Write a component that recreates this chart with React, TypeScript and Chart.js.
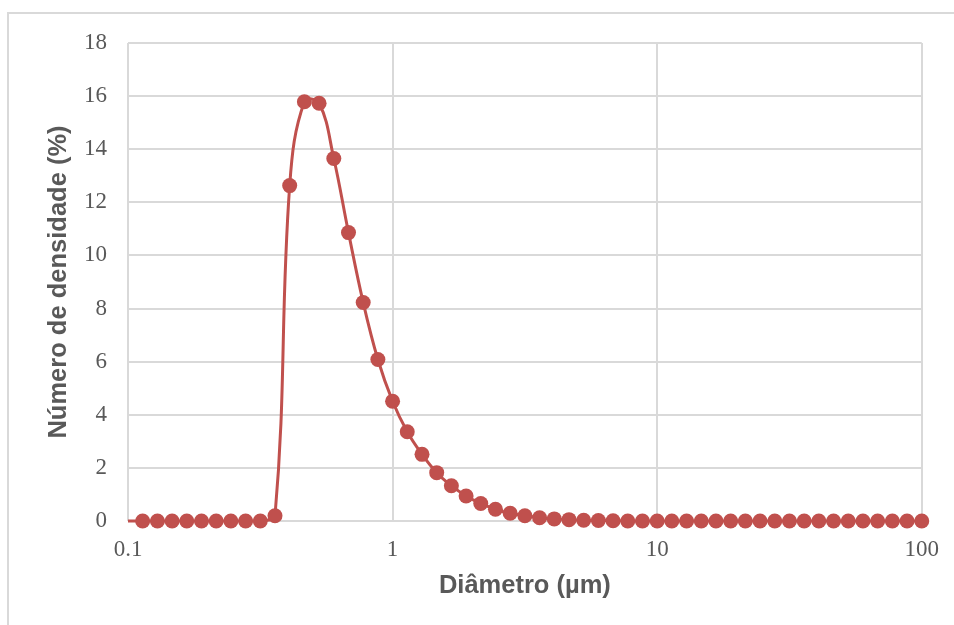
import React, { useEffect, useRef } from "react";
import { Chart, registerables } from "chart.js";

Chart.register(...registerables);

// Diameter classes (µm), log-spaced, 18 per decade
const diameters = [
  0.088, 0.1136, 0.1292, 0.1468, 0.1668, 0.1896, 0.2154, 0.2448, 0.2783, 0.3162,
  0.3594, 0.4084, 0.4642, 0.5275, 0.5995, 0.6813, 0.7743, 0.8799, 1.0, 1.136,
  1.292, 1.468, 1.668, 1.896, 2.154, 2.448, 2.783, 3.162, 3.594, 4.084,
  4.642, 5.275, 5.995, 6.813, 7.743, 8.799, 10.0, 11.36, 12.92, 14.68,
  16.68, 18.96, 21.54, 24.48, 27.83, 31.62, 35.94, 40.84, 46.42, 52.75,
  59.95, 68.13, 77.43, 87.99, 100.0,
];

// Number density (%)
const densities = [
  0, 0, 0, 0, 0, 0, 0, 0, 0, 0,
  0.2, 12.63, 15.79, 15.73, 13.65, 10.86, 8.23, 6.08, 4.51, 3.36,
  2.51, 1.82, 1.33, 0.94, 0.66, 0.44, 0.29, 0.2, 0.12, 0.08,
  0.05, 0.03, 0.02, 0.01, 0, 0, 0, 0, 0, 0,
  0, 0, 0, 0, 0, 0, 0, 0, 0, 0,
  0, 0, 0, 0, 0,
];

const xTickValues = [0.1, 1, 10, 100];
const xTickLabels = ["0.1", "1", "10", "100"];
const yMin = 0;
const yMax = 18;
const yStep = 2;

const xTitle = "Diâmetro (µm)";
const yTitle = "Número de densidade (%)";

const RED = "#C0504D";
const GRID = "#D9D9D9";
const TEXT = "#595959";

export default function App() {
  const ref = useRef<HTMLCanvasElement | null>(null);

  useEffect(() => {
    if (!ref.current) return;
    const points = diameters.map((d, i) => ({ x: d, y: densities[i] }));
    const chart = new Chart(ref.current, {
      type: "line",
      data: {
        datasets: [
          {
            data: points,
            borderColor: RED,
            backgroundColor: RED,
            borderWidth: 3,
            pointRadius: 7.5,
            pointBorderWidth: 0,
            pointBackgroundColor: RED,
            tension: 0.4,
            clip: { left: 0, top: 10, right: 10, bottom: 10 } as any,
          },
        ],
      },
      options: {
        animation: false,
        responsive: false,
        layout: { padding: { left: 0, top: 43, right: 32, bottom: 0 } },
        plugins: { legend: { display: false }, tooltip: { enabled: false } },
        scales: {
          x: {
            type: "logarithmic",
            min: 0.1,
            max: 100,
            afterBuildTicks: (scale: any) => {
              scale.ticks = xTickValues.map((v) => ({ value: v }));
            },
            afterFit: (scale: any) => {
              scale.height = 104;
            },
            ticks: {
              callback: (v: any) => {
                const i = xTickValues.indexOf(Number(v));
                return i >= 0 ? xTickLabels[i] : "";
              },
              color: TEXT,
              font: { family: "'Liberation Serif', serif", size: 23 },
              padding: 15,
              autoSkip: false,
              maxRotation: 0,
            },
            grid: { color: GRID, lineWidth: 2, drawTicks: false },
            border: { display: false },
            title: {
              display: true,
              text: xTitle,
              color: TEXT,
              font: { family: "'Liberation Sans', Arial, sans-serif", size: 25.5, weight: "bold", lineHeight: 1.2 },
              padding: { top: 0, bottom: 23.7 },
            },
          },
          y: {
            min: yMin,
            max: yMax,
            afterFit: (scale: any) => {
              scale.width = 128;
            },
            ticks: {
              stepSize: yStep,
              color: TEXT,
              font: { family: "'Liberation Serif', serif", size: 23 },
              padding: 21,
            },
            grid: { color: GRID, lineWidth: 2, drawTicks: false },
            border: { display: false },
            title: {
              display: true,
              text: yTitle,
              color: TEXT,
              font: { family: "'Liberation Sans', Arial, sans-serif", size: 25.5, weight: "bold", lineHeight: 1.2 },
              padding: { top: 44, bottom: 0 },
            },
          },
        },
      },
    });
    return () => chart.destroy();
  }, []);

  return (
    <div
      style={{
        position: "fixed",
        left: 0,
        top: 0,
        width: 954,
        height: 625,
        overflow: "hidden",
        background: "#fff",
      }}
    >
      <div
        style={{
          position: "absolute",
          left: 7,
          top: 12,
          width: 1000,
          height: 1000,
          borderLeft: `2px solid ${GRID}`,
          borderTop: `2px solid ${GRID}`,
        }}
      />
      <canvas
        ref={ref}
        width={954}
        height={625}
        style={{ position: "absolute", left: 0, top: 0, width: 954, height: 625 }}
      />
    </div>
  );
}
